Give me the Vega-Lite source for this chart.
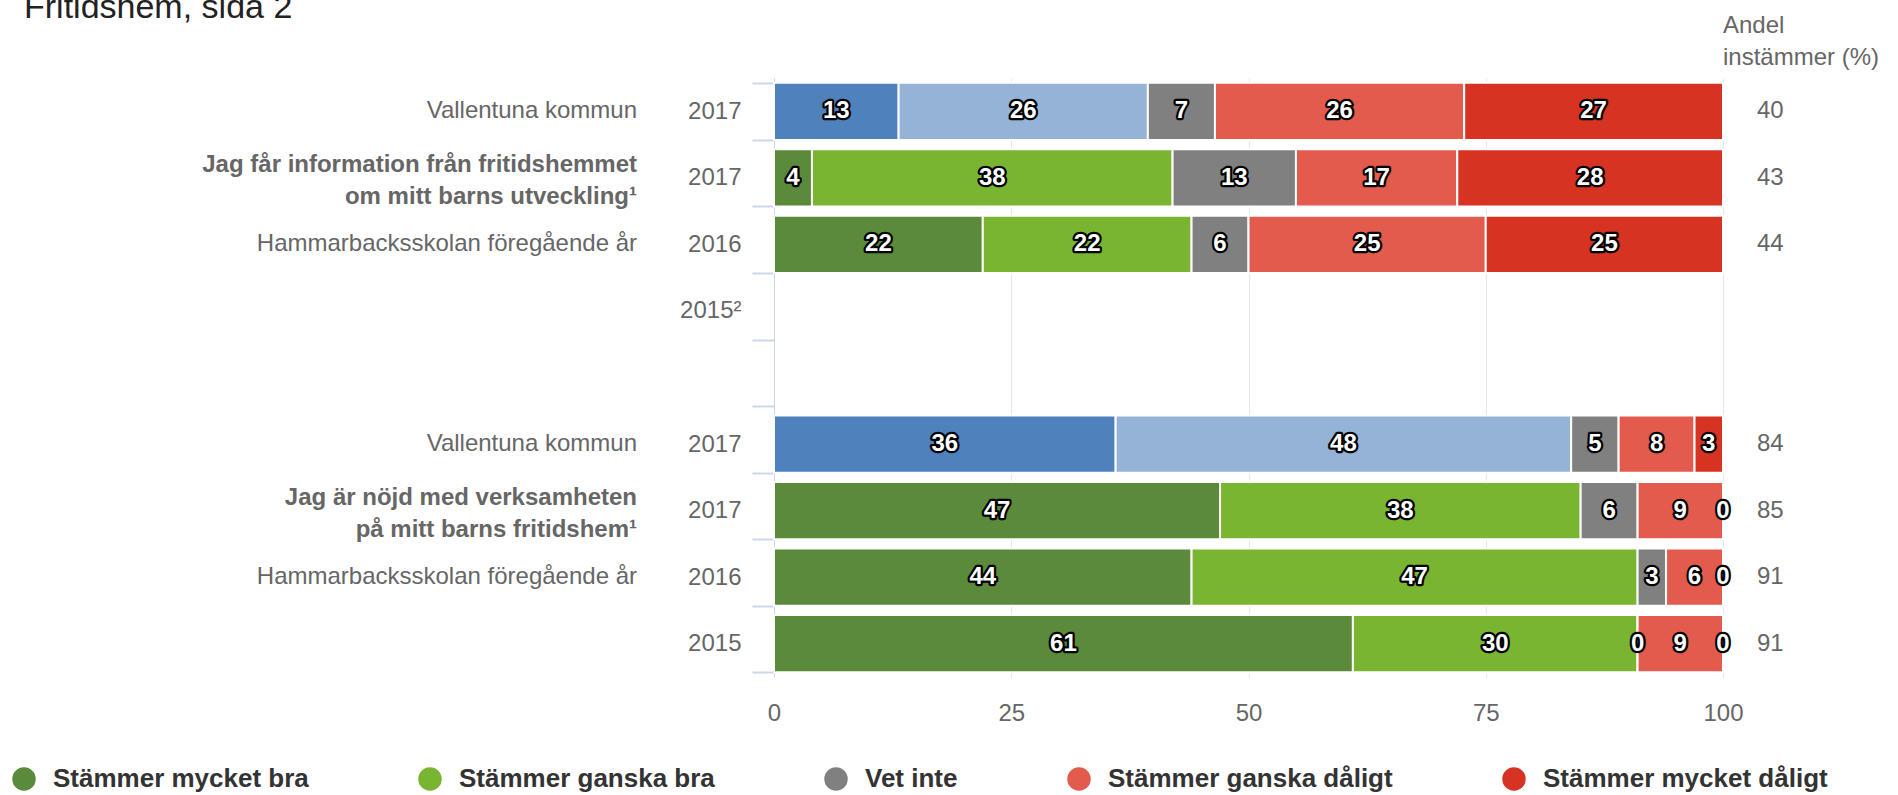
{
  "$schema": "https://vega.github.io/schema/vega-lite/v6.json",
  "width": 949,
  "height": 599,
  "autosize": {"type": "none"},
  "padding": {"left": 774, "top": 78, "right": 175, "bottom": 118},
  "background": "white",
  "title": {
    "text": "Fritidshem, sida 2",
    "anchor": "start",
    "frame": "group",
    "fontSize": 34,
    "fontWeight": "normal",
    "font": "Liberation Sans",
    "color": "#222222",
    "baseline": "alphabetic",
    "offset": 0,
    "dx": -750,
    "dy": 38
  },
  "config": {"font": "Liberation Sans", "view": {"stroke": null}},
  "datasets": {
    "seg": [
      {"rad": "1|2017", "serie": "Vallentuna kommun: Stämmer mycket bra", "nr": 1, "varde": 13},
      {"rad": "1|2017", "serie": "Vallentuna kommun: Stämmer ganska bra", "nr": 2, "varde": 26},
      {"rad": "1|2017", "serie": "Vet inte", "nr": 3, "varde": 7},
      {"rad": "1|2017", "serie": "Stämmer ganska dåligt", "nr": 4, "varde": 26},
      {"rad": "1|2017", "serie": "Stämmer mycket dåligt", "nr": 5, "varde": 27},
      {"rad": "2|2017", "serie": "Stämmer mycket bra", "nr": 1, "varde": 4},
      {"rad": "2|2017", "serie": "Stämmer ganska bra", "nr": 2, "varde": 38},
      {"rad": "2|2017", "serie": "Vet inte", "nr": 3, "varde": 13},
      {"rad": "2|2017", "serie": "Stämmer ganska dåligt", "nr": 4, "varde": 17},
      {"rad": "2|2017", "serie": "Stämmer mycket dåligt", "nr": 5, "varde": 28},
      {"rad": "3|2016", "serie": "Stämmer mycket bra", "nr": 1, "varde": 22},
      {"rad": "3|2016", "serie": "Stämmer ganska bra", "nr": 2, "varde": 22},
      {"rad": "3|2016", "serie": "Vet inte", "nr": 3, "varde": 6},
      {"rad": "3|2016", "serie": "Stämmer ganska dåligt", "nr": 4, "varde": 25},
      {"rad": "3|2016", "serie": "Stämmer mycket dåligt", "nr": 5, "varde": 25},
      {"rad": "6|2017", "serie": "Vallentuna kommun: Stämmer mycket bra", "nr": 1, "varde": 36},
      {"rad": "6|2017", "serie": "Vallentuna kommun: Stämmer ganska bra", "nr": 2, "varde": 48},
      {"rad": "6|2017", "serie": "Vet inte", "nr": 3, "varde": 5},
      {"rad": "6|2017", "serie": "Stämmer ganska dåligt", "nr": 4, "varde": 8},
      {"rad": "6|2017", "serie": "Stämmer mycket dåligt", "nr": 5, "varde": 3},
      {"rad": "7|2017", "serie": "Stämmer mycket bra", "nr": 1, "varde": 47},
      {"rad": "7|2017", "serie": "Stämmer ganska bra", "nr": 2, "varde": 38},
      {"rad": "7|2017", "serie": "Vet inte", "nr": 3, "varde": 6},
      {"rad": "7|2017", "serie": "Stämmer ganska dåligt", "nr": 4, "varde": 9},
      {"rad": "7|2017", "serie": "Stämmer mycket dåligt", "nr": 5, "varde": 0},
      {"rad": "8|2016", "serie": "Stämmer mycket bra", "nr": 1, "varde": 44},
      {"rad": "8|2016", "serie": "Stämmer ganska bra", "nr": 2, "varde": 47},
      {"rad": "8|2016", "serie": "Vet inte", "nr": 3, "varde": 3},
      {"rad": "8|2016", "serie": "Stämmer ganska dåligt", "nr": 4, "varde": 6},
      {"rad": "8|2016", "serie": "Stämmer mycket dåligt", "nr": 5, "varde": 0},
      {"rad": "9|2015", "serie": "Stämmer mycket bra", "nr": 1, "varde": 61},
      {"rad": "9|2015", "serie": "Stämmer ganska bra", "nr": 2, "varde": 30},
      {"rad": "9|2015", "serie": "Vet inte", "nr": 3, "varde": 0},
      {"rad": "9|2015", "serie": "Stämmer ganska dåligt", "nr": 4, "varde": 9},
      {"rad": "9|2015", "serie": "Stämmer mycket dåligt", "nr": 5, "varde": 0}
    ],
    "andel": [
      {"rad": "1|2017", "andel": 40},
      {"rad": "2|2017", "andel": 43},
      {"rad": "3|2016", "andel": 44},
      {"rad": "6|2017", "andel": 84},
      {"rad": "7|2017", "andel": 85},
      {"rad": "8|2016", "andel": 91},
      {"rad": "9|2015", "andel": 91}
    ],
    "etiketter": [
      {"rad": "1|2017", "typ": "enhet", "text": "Vallentuna kommun"},
      {"rad": "2|2017", "typ": "fråga", "text": "Jag får information från fritidshemmet\nom mitt barns utveckling¹"},
      {"rad": "3|2016", "typ": "enhet", "text": "Hammarbacksskolan föregående år"},
      {"rad": "6|2017", "typ": "enhet", "text": "Vallentuna kommun"},
      {"rad": "7|2017", "typ": "fråga", "text": "Jag är nöjd med verksamheten\npå mitt barns fritidshem¹"},
      {"rad": "8|2016", "typ": "enhet", "text": "Hammarbacksskolan föregående år"}
    ],
    "rubrik": [
      {"rad": "1|2017", "text": "Andel\ninstämmer (%)"}
    ]
  },
  "layer": [
    {
      "data": {"name": "seg"},
      "mark": {"type": "bar", "stroke": "white", "strokeWidth": 2},
      "encoding": {
        "x": {
          "field": "varde",
          "type": "quantitative",
          "stack": "normalize",
          "title": null,
          "scale": {"domain": [0, 1], "nice": false},
          "axis": {
            "values": [0, 0.25, 0.5, 0.75, 1],
            "labelExpr": "round(datum.value * 100)",
            "labelFlush": false,
            "grid": true,
            "gridColor": "#e6e6e6",
            "gridWidth": 1,
            "domain": false,
            "ticks": false,
            "tickSize": 0,
            "labelPadding": 24,
            "labelFontSize": 24,
            "labelColor": "#666666",
            "labelFont": "Liberation Sans"
          }
        },
        "y": {
          "field": "rad",
          "type": "nominal",
          "title": null,
          "scale": {
            "domain": ["1|2017", "2|2017", "3|2016", "4|2015²", "5|", "6|2017", "7|2017", "8|2016", "9|2015"],
            "paddingInner": 0.14,
            "paddingOuter": 0.07
          },
          "axis": {
            "labelExpr": "split(datum.label, '|')[1]",
            "labelFontSize": 24,
            "labelColor": "#666666",
            "labelFont": "Liberation Sans",
            "labelPadding": 11,
            "tickBand": "extent",
            "tickSize": 22,
            "tickWidth": 2,
            "tickColor": "#ccd6eb",
            "domainColor": "#ccd6eb",
            "domainWidth": 1,
            "grid": false
          }
        },
        "color": {
          "field": "serie",
          "type": "nominal",
          "scale": {
            "domain": ["Stämmer mycket bra", "Stämmer ganska bra", "Vet inte", "Stämmer ganska dåligt", "Stämmer mycket dåligt", "Vallentuna kommun: Stämmer mycket bra", "Vallentuna kommun: Stämmer ganska bra"],
            "range": ["#5b8b3a", "#79b530", "#808080", "#e35b4c", "#d73322", "#4f81bd", "#95b3d7"]
          },
          "legend": {
            "values": ["Stämmer mycket bra", "Stämmer ganska bra", "Vet inte", "Stämmer ganska dåligt", "Stämmer mycket dåligt"],
            "title": null,
            "orient": "none",
            "legendX": -763,
            "legendY": 688,
            "direction": "horizontal",
            "symbolType": "circle",
            "symbolSize": 550,
            "symbolStrokeWidth": 0,
            "labelFontSize": 26,
            "labelFontWeight": "bold",
            "labelColor": "#333333",
            "labelFont": "Liberation Sans",
            "labelOffset": 16,
            "columnPadding": 108,
            "labelLimit": 600,
            "padding": 0
          }
        },
        "order": {"field": "nr", "type": "quantitative"}
      }
    },
    {
      "data": {"name": "seg"},
      "mark": {"type": "text", "fontSize": 24, "fontWeight": "bold", "fill": "black", "stroke": "black", "strokeWidth": 4.5, "strokeJoin": "round", "baseline": "middle", "align": "center"},
      "encoding": {
        "x": {"field": "varde", "type": "quantitative", "stack": "normalize", "bandPosition": 0.5, "title": null},
        "y": {"field": "rad", "type": "nominal", "title": null},
        "detail": {"field": "serie"},
        "order": {"field": "nr", "type": "quantitative"},
        "text": {"field": "varde", "type": "quantitative"}
      }
    },
    {
      "data": {"name": "seg"},
      "mark": {"type": "text", "fontSize": 24, "fontWeight": "bold", "fill": "white", "baseline": "middle", "align": "center"},
      "encoding": {
        "x": {"field": "varde", "type": "quantitative", "stack": "normalize", "bandPosition": 0.5, "title": null},
        "y": {"field": "rad", "type": "nominal", "title": null},
        "detail": {"field": "serie"},
        "order": {"field": "nr", "type": "quantitative"},
        "text": {"field": "varde", "type": "quantitative"}
      }
    },
    {
      "data": {"name": "andel"},
      "mark": {"type": "text", "fontSize": 24, "color": "#666666", "align": "left", "baseline": "middle", "dx": 34},
      "encoding": {
        "x": {"datum": 1, "type": "quantitative", "title": null},
        "y": {"field": "rad", "type": "nominal", "title": null},
        "text": {"field": "andel", "type": "quantitative"}
      }
    },
    {
      "data": {"name": "rubrik"},
      "mark": {"type": "text", "fontSize": 24, "color": "#666666", "align": "left", "baseline": "alphabetic", "lineBreak": "\n", "lineHeight": 32, "dy": -78},
      "encoding": {
        "x": {"datum": 1, "type": "quantitative", "title": null},
        "y": {"field": "rad", "type": "nominal", "title": null},
        "text": {"field": "text", "type": "nominal"}
      }
    },
    {
      "data": {"name": "etiketter"},
      "transform": [{"filter": "datum.typ == 'enhet'"}],
      "mark": {"type": "text", "fontSize": 24, "color": "#666666", "align": "right", "baseline": "middle", "dx": -137},
      "encoding": {
        "x": {"datum": 0, "type": "quantitative", "title": null},
        "y": {"field": "rad", "type": "nominal", "title": null},
        "text": {"field": "text", "type": "nominal"}
      }
    },
    {
      "data": {"name": "etiketter"},
      "transform": [{"filter": "datum.typ == 'fråga'"}],
      "mark": {"type": "text", "fontSize": 24, "fontWeight": "bold", "color": "#666666", "align": "right", "baseline": "middle", "dx": -137, "dy": -13, "lineBreak": "\n", "lineHeight": 32},
      "encoding": {
        "x": {"datum": 0, "type": "quantitative", "title": null},
        "y": {"field": "rad", "type": "nominal", "title": null},
        "text": {"field": "text", "type": "nominal"}
      }
    }
  ]
}
